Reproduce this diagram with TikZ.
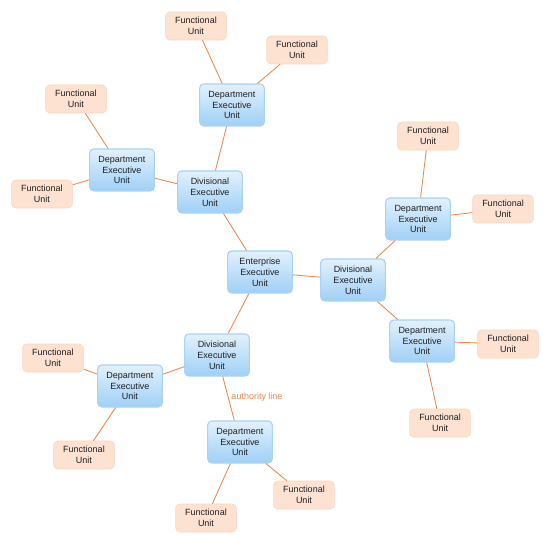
\documentclass[tikz,border=0pt]{standalone}
\usepackage{fontspec}
\setsansfont{Liberation Sans}
\usetikzlibrary{calc}
\definecolor{ink}{HTML}{1E1E1E}
\definecolor{line}{HTML}{E8884A}
\definecolor{bluetop}{HTML}{E2F1FD}
\definecolor{bluebot}{HTML}{9FD0F6}
\definecolor{blueedge}{HTML}{A9D3F3}
\definecolor{peach}{HTML}{FDE2D2}
\definecolor{peachedge}{HTML}{FBD3BE}

\begin{document}
\begin{tikzpicture}[font=\sffamily\fontsize{6.4}{7.7}\selectfont,text=ink,
  exec/.style={rounded corners=3pt,draw=blueedge,thick,top color=bluetop,bottom color=bluebot,
    minimum width=1.62cm,minimum height=1.05cm,align=center,inner sep=1pt},
  func/.style={rounded corners=3pt,draw=peachedge,fill=peach,
    minimum width=1.52cm,minimum height=0.7cm,align=center,inner sep=1pt},
  link/.style={line,semithick}]
  \useasboundingbox (-6.5,-6.8) rectangle (7.25,6.8);
  % executive units
  \node[exec] (ent) at (0,0) {Enterprise\\Executive\\Unit};
  \node[exec] (divT) at (-1.25,2.0) {Divisional\\Executive\\Unit};
  \node[exec] (divR) at (2.325,-0.2) {Divisional\\Executive\\Unit};
  \node[exec] (divB) at (-1.075,-2.075) {Divisional\\Executive\\Unit};
  \node[exec] (depT) at (-0.7,4.175) {Department\\Executive\\Unit};
  \node[exec] (depL) at (-3.45,2.55) {Department\\Executive\\Unit};
  \node[exec] (depRT) at (3.95,1.325) {Department\\Executive\\Unit};
  \node[exec] (depRB) at (4.05,-1.725) {Department\\Executive\\Unit};
  \node[exec] (depBL) at (-3.25,-2.85) {Department\\Executive\\Unit};
  \node[exec] (depB) at (-0.5,-4.25) {Department\\Executive\\Unit};
  % functional units
  \node[func] (fu1) at (-1.6,6.15) {Functional\\Unit};
  \node[func] (fu2) at (0.925,5.55) {Functional\\Unit};
  \node[func] (fu3) at (-4.6,4.325) {Functional\\Unit};
  \node[func] (fu4) at (-5.45,1.95) {Functional\\Unit};
  \node[func] (fu5) at (4.2,3.4) {Functional\\Unit};
  \node[func] (fu6) at (6.075,1.575) {Functional\\Unit};
  \node[func] (fu7) at (6.2,-1.8) {Functional\\Unit};
  \node[func] (fu8) at (4.5,-3.775) {Functional\\Unit};
  \node[func] (fu9) at (-5.175,-2.15) {Functional\\Unit};
  \node[func] (fu10) at (-4.4,-4.575) {Functional\\Unit};
  \node[func] (fu11) at (1.1,-5.575) {Functional\\Unit};
  \node[func] (fu12) at (-1.35,-6.15) {Functional\\Unit};
  % authority lines
  \draw[link] (ent) -- (divT);
  \draw[link] (ent) -- (divR);
  \draw[link] (ent) -- (divB);
  \draw[link] (divT) -- (depT);
  \draw[link] (divT) -- (depL);
  \draw[link] (divR) -- (depRT);
  \draw[link] (divR) -- (depRB);
  \draw[link] (divB) -- (depBL);
  \draw[link] (divB) -- (depB) node[midway,right,text=line,xshift=-1.5pt,yshift=0.6pt] {authority line};
  \draw[link] (depT) -- (fu1);
  \draw[link] (depT) -- (fu2);
  \draw[link] (depL) -- (fu3);
  \draw[link] (depL) -- (fu4);
  \draw[link] (depRT) -- (fu5);
  \draw[link] (depRT) -- (fu6);
  \draw[link] (depRB) -- (fu7);
  \draw[link] (depRB) -- (fu8);
  \draw[link] (depBL) -- (fu9);
  \draw[link] (depBL) -- (fu10);
  \draw[link] (depB) -- (fu11);
  \draw[link] (depB) -- (fu12);
\end{tikzpicture}
\end{document}
